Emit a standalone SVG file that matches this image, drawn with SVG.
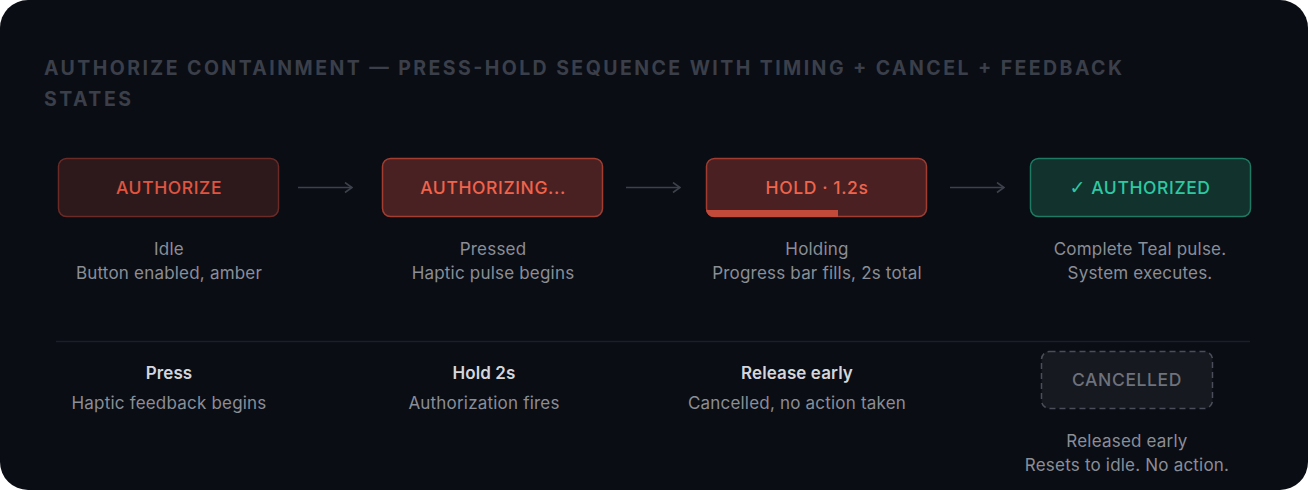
<svg xmlns="http://www.w3.org/2000/svg" width="1308" height="490" viewBox="0 0 1308 490">
<defs>
<style>
.title{font-family:Inter,"Liberation Sans",sans-serif;font-size:19.5px;font-weight:700;fill:#3b3f49}
.btn{font-family:Inter,"Liberation Sans",sans-serif;font-size:17.5px;font-weight:500;text-anchor:middle;letter-spacing:0.6px}
.cap{font-family:Inter,"Liberation Sans",sans-serif;font-size:17px;font-weight:400;fill:#8a8e97;text-anchor:middle;letter-spacing:0.2px}
.lbl{font-family:Inter,"Liberation Sans",sans-serif;font-size:17px;font-weight:600;fill:#d4d6db;text-anchor:middle;letter-spacing:0.1px}
.arrow{stroke:#3d414b;stroke-width:1.6;fill:none}
</style>
<marker id="ah" viewBox="0 0 10 12" refX="9" refY="6" markerWidth="10" markerHeight="12" markerUnits="userSpaceOnUse" orient="auto">
<path d="M2 1 L9 6 L2 11" fill="none" stroke="#3d414b" stroke-width="1.6"/>
</marker>
<clipPath id="holdclip"><rect x="706" y="158" width="221" height="59" rx="8"/></clipPath>
</defs>
<rect x="0" y="0" width="1308" height="490" fill="#ffffff"/>
<rect x="0" y="0" width="1308" height="490" rx="28" fill="#0a0d14"/>
<g id="title">
<text class="title" x="44" y="75" textLength="1078" lengthAdjust="spacing">AUTHORIZE CONTAINMENT — PRESS-HOLD SEQUENCE WITH TIMING + CANCEL + FEEDBACK</text>
<text class="title" x="44" y="106" textLength="87" lengthAdjust="spacing">STATES</text>
</g>
<g id="connectors">
<line class="arrow" x1="298" y1="187.5" x2="352" y2="187.5" marker-end="url(#ah)"/>
<line class="arrow" x1="626" y1="187.5" x2="680" y2="187.5" marker-end="url(#ah)"/>
<line class="arrow" x1="950" y1="187.5" x2="1004" y2="187.5" marker-end="url(#ah)"/>
</g>
<g id="idle">
<rect x="58.5" y="158.5" width="220" height="58" rx="8" fill="#2d191c" stroke="#6a2a26" stroke-width="1.5"/>
<text class="btn" x="169" y="194" fill="#e0553f">AUTHORIZE</text>
<text class="cap" x="169" y="255">Idle</text>
<text class="cap" x="169" y="279">Button enabled, amber</text>
</g>
<g id="pressed">
<rect x="382.5" y="158.5" width="220" height="58" rx="8" fill="#4a2123" stroke="#a23d30" stroke-width="1.5"/>
<text class="btn" x="493" y="194" fill="#f0644c">AUTHORIZING...</text>
<text class="cap" x="493" y="255">Pressed</text>
<text class="cap" x="493" y="279">Haptic pulse begins</text>
</g>
<g id="holding">
<rect x="706.5" y="158.5" width="220" height="58" rx="8" fill="#4a2022" stroke="#a03d30" stroke-width="1.5"/>
<rect x="706" y="210" width="132" height="7" fill="#c24a3a" clip-path="url(#holdclip)"/>
<text class="btn" x="817" y="194" fill="#f0644c">HOLD · 1.2s</text>
<text class="cap" x="817" y="255">Holding</text>
<text class="cap" x="817" y="279">Progress bar fills, 2s total</text>
</g>
<g id="authorized">
<rect x="1030.5" y="158.5" width="220" height="58" rx="8" fill="#12322e" stroke="#1e7a63" stroke-width="1.5"/>
<text class="btn" x="1140" y="194" fill="#2ec8a2"><tspan font-family="'DejaVu Sans',sans-serif" font-size="19">✓</tspan> AUTHORIZED</text>
<text class="cap" x="1140" y="255">Complete Teal pulse.</text>
<text class="cap" x="1140" y="279">System executes.</text>
</g>
<line x1="56" y1="341.5" x2="1250" y2="341.5" stroke="#1b1f27" stroke-width="1.5"/>
<g id="press">
<text class="lbl" x="169" y="379">Press</text>
<text class="cap" x="169" y="409">Haptic feedback begins</text>
</g>
<g id="hold2s">
<text class="lbl" x="484" y="379">Hold 2s</text>
<text class="cap" x="484" y="409">Authorization fires</text>
</g>
<g id="release">
<text class="lbl" x="797" y="379">Release early</text>
<text class="cap" x="797" y="409">Cancelled, no action taken</text>
</g>
<g id="cancelled">
<rect x="1041.5" y="351.5" width="171" height="57" rx="8" fill="#16191f" stroke="#4a4e58" stroke-width="1.5" stroke-dasharray="6 4"/>
<text class="btn" x="1127" y="386" fill="#6e727c">CANCELLED</text>
<text class="cap" x="1127" y="447">Released early</text>
<text class="cap" x="1127" y="471">Resets to idle. No action.</text>
</g>
</svg>
